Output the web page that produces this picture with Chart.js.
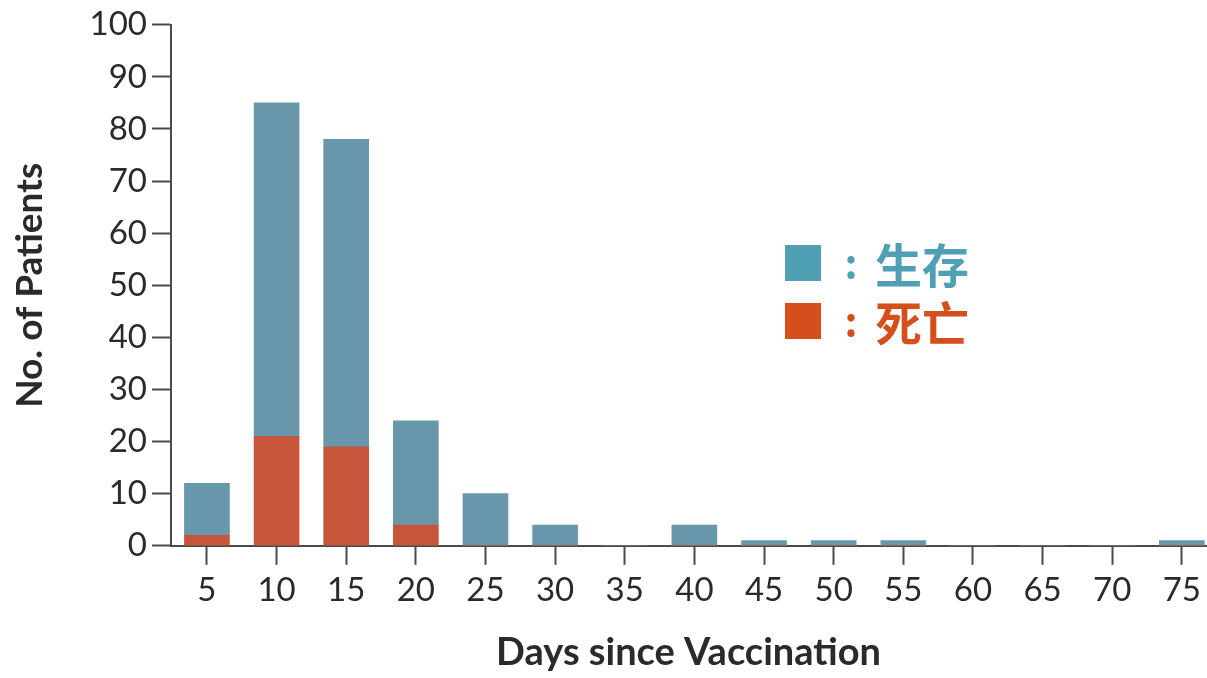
<!DOCTYPE html>
<html>
<head>
<meta charset="utf-8">
<script src="https://cdn.jsdelivr.net/npm/chart.js@4/dist/chart.umd.min.js"></script>
<style>
  html, body { margin: 0; padding: 0; background: #fff; }
  #wrap { position: relative; width: 1207px; height: 678px; }
</style>
</head>
<body>
<div id="wrap"><canvas id="c" width="1207" height="678"></canvas></div>
<script>
// Days since vaccination (bin centres)
const days = [5, 10, 15, 20, 25, 30, 35, 40, 45, 50, 55, 60, 65, 70, 75];
// Patients who died in each bin
const died = [2, 21, 19, 4, 0, 0, 0, 0, 0, 0, 0, 0, 0, 0, 0];
// Patients who survived in each bin
const survived = [10, 64, 59, 20, 10, 4, 0, 4, 1, 1, 1, 0, 0, 0, 1];
// Y-axis ticks
const yTicks = [0, 10, 20, 30, 40, 50, 60, 70, 80, 90, 100];
// Legend entries
const legendLabels = ['生存', '死亡'];

const barBlue = '#6896ab';
const barRed = '#c6553b';
const legendColors = ['#4f9fb5', '#d44f1c'];
const axisColor = '#4a4a4a';
const textColor = '#2a2a2a';
const FONT = 'Lato, "Open Sans", sans-serif';

// Legend block: coloured square, colon, label
const legendPlugin = {
  id: 'sideLegend',
  afterDraw(chart) {
    const ctx = chart.ctx;
    ctx.save();
    const x0 = 785, size = 36;
    const rows = [263, 321];
    ctx.textBaseline = 'middle';
    rows.forEach((cy, i) => {
      ctx.fillStyle = legendColors[i];
      ctx.fillRect(x0, cy - size / 2, size, size);
      ctx.font = 'bold 40px "Noto Sans CJK SC", sans-serif';
      ctx.textAlign = 'center';
      ctx.fillText(':', 851, cy);
      ctx.font = 'bold 47px "Noto Sans CJK SC", sans-serif';
      ctx.textAlign = 'left';
      ctx.fillText(legendLabels[i], 875, cy + 2);
    });
    ctx.restore();
  }
};

new Chart(document.getElementById('c'), {
  type: 'bar',
  data: {
    datasets: [
      {
        label: '死亡',
        data: days.map((d, i) => ({ x: d, y: died[i] })),
        backgroundColor: barRed,
        barThickness: 45,
        borderWidth: 0
      },
      {
        label: '生存',
        data: days.map((d, i) => ({ x: d, y: survived[i] })),
        backgroundColor: barBlue,
        barThickness: 45,
        borderWidth: 0
      }
    ]
  },
  options: {
    responsive: false,
    animation: false,
    devicePixelRatio: 1,
    layout: { padding: { top: 8, right: 0, bottom: 2, left: 0 } },
    plugins: {
      legend: { display: false },
      tooltip: { enabled: false }
    },
    scales: {
      x: {
        type: 'linear',
        stacked: true,
        offset: false,
        min: 2.42,
        max: 76.74,
        afterBuildTicks(scale) {
          scale.ticks = days.map(v => ({ value: v }));
        },
        ticks: {
          font: { family: FONT, size: 33 },
          color: textColor,
          padding: 6,
          maxRotation: 0,
          autoSkip: false
        },
        grid: {
          offset: false,
          drawOnChartArea: false,
          drawTicks: true,
          tickLength: 19,
          tickWidth: 2,
          tickColor: axisColor
        },
        border: { display: true, color: axisColor, width: 2 },
        title: {
          display: true,
          text: 'Days since Vaccination',
          font: { family: FONT, size: 38, weight: 'bold' },
          color: textColor,
          padding: { top: 14, bottom: 0 }
        }
      },
      y: {
        stacked: true,
        min: 0,
        max: 100,
        afterBuildTicks(scale) {
          scale.ticks = yTicks.map(v => ({ value: v }));
        },
        afterFit(scale) { scale.width = 171; },
        ticks: {
          font: { family: FONT, size: 33 },
          color: textColor,
          padding: 5
        },
        grid: {
          drawOnChartArea: false,
          drawTicks: true,
          tickLength: 19,
          tickWidth: 2,
          tickColor: axisColor
        },
        border: { display: true, color: axisColor, width: 2 },
        title: {
          display: true,
          text: 'No. of Patients',
          font: { family: FONT, size: 37, weight: 'bold' },
          color: textColor,
          padding: { top: 8, bottom: 0 }
        }
      }
    }
  },
  plugins: [legendPlugin]
});
</script>
</body>
</html>
